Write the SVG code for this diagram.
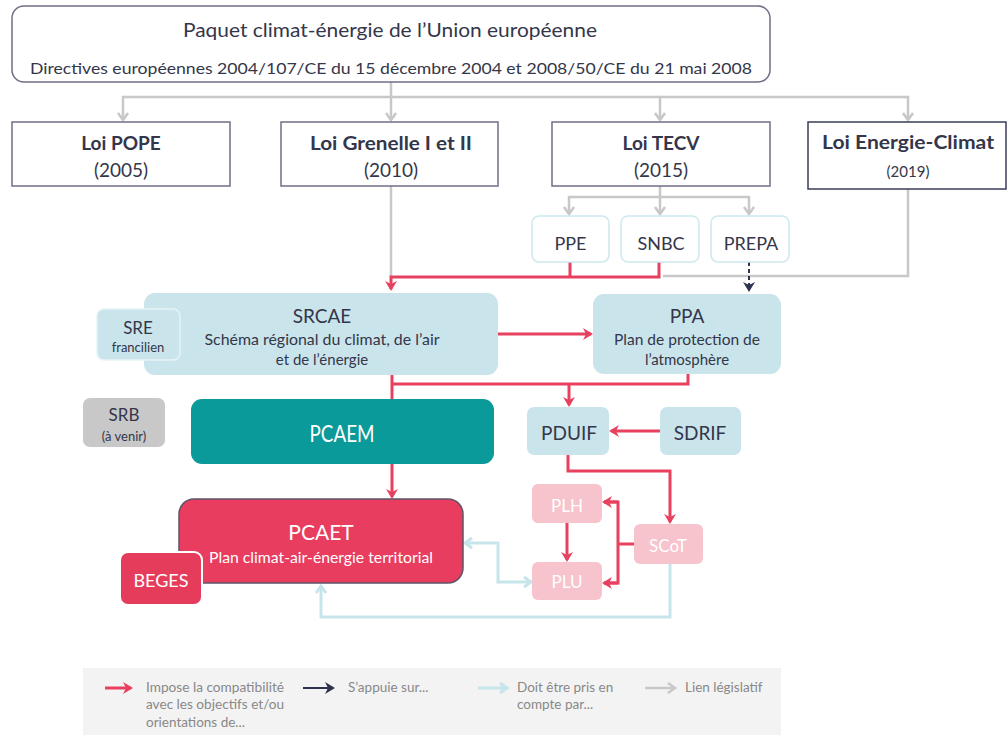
<svg xmlns="http://www.w3.org/2000/svg" width="1008" height="735" viewBox="0 0 1008 735">
<style>
text{font-family:Lato,"Open Sans","Liberation Sans",sans-serif;text-anchor:middle;fill:#34364a}
.law{fill:#fff;stroke:#6e7085;stroke-width:1.5}
.lb{fill:#c9e5eb}
.sub{fill:#fff;stroke:#cde9ef;stroke-width:1.5}
.pink{fill:#f7c3cc}
.w{fill:#fff}
.g{fill:none;stroke:#c8c8c8;stroke-width:2.5}
.r{fill:none;stroke:#e8415f;stroke-width:3}
.b{fill:none;stroke:#c5e5eb;stroke-width:3}
.n{fill:none;stroke:#2e3150;stroke-width:2;stroke-dasharray:4 3}
.lg{text-anchor:start;fill:#888;font-size:13.5px}
</style>
<defs>
<marker id="ag" markerUnits="userSpaceOnUse" markerWidth="14" markerHeight="14" refX="8" refY="7" orient="auto"><path d="M2,2 L9,7 L2,12" fill="none" stroke="#c8c8c8" stroke-width="2.5"/></marker>
<marker id="ar" markerUnits="userSpaceOnUse" markerWidth="14" markerHeight="14" refX="9" refY="7" orient="auto"><path d="M1,1 L11,7 L1,13 L4,7 z" fill="#e8415f"/></marker>
<marker id="an" markerUnits="userSpaceOnUse" markerWidth="14" markerHeight="14" refX="9" refY="7" orient="auto"><path d="M1,1 L11,7 L1,13 L4,7 z" fill="#2e3150"/></marker>
<marker id="ab" markerUnits="userSpaceOnUse" markerWidth="14" markerHeight="14" refX="8" refY="7" orient="auto-start-reverse"><path d="M2,2 L9,7 L2,12" fill="none" stroke="#c5e5eb" stroke-width="3"/></marker>
</defs>

<g id="connectors">
<path class="g" d="M391,82 V97 H123 V119" marker-end="url(#ag)"/>
<path class="g" d="M391,97 V119" marker-end="url(#ag)"/>
<path class="g" d="M391,97 H660 V119" marker-end="url(#ag)"/>
<path class="g" d="M660,97 H908 V119" marker-end="url(#ag)"/>
<path class="g" d="M391,186 V277"/>
<path class="g" d="M660,186 V197 H569 V213" marker-end="url(#ag)"/>
<path class="g" d="M660,197 V213" marker-end="url(#ag)"/>
<path class="g" d="M660,197 H749 V213" marker-end="url(#ag)"/>
<path class="g" d="M908,189 V276 H663"/>
<path class="r" d="M570,262 V277"/>
<path class="r" d="M659,262 V277 H391 V289" marker-end="url(#ar)"/>
<path class="n" d="M749,262 V290" marker-end="url(#an)"/>
<path class="r" d="M498,334 H591" marker-end="url(#ar)"/>
<path class="r" d="M392,375 V399"/>
<path class="r" d="M688,374 V384 H392"/>
<path class="r" d="M569,384 V405" marker-end="url(#ar)"/>
<path class="r" d="M660,431 H611" marker-end="url(#ar)"/>
<path class="r" d="M568,455 V471 H670 V522" marker-end="url(#ar)"/>
<path class="r" d="M392,464 V497" marker-end="url(#ar)"/>
<path class="r" d="M567,523 V560" marker-end="url(#ar)"/>
<path class="r" d="M634,544 H618"/>
<path class="r" d="M604,502 H618 V583 H604"/>
<path class="r" d="M618,502 H604" marker-end="url(#ar)"/>
<path class="r" d="M618,583 H604" marker-end="url(#ar)"/>
<path class="b" d="M466,543 H498 V582 H530" marker-start="url(#ab)" marker-end="url(#ab)"/>
<path class="b" d="M670,564 V617 H321 V587" marker-end="url(#ab)"/>
</g>

<g id="paquet">
<rect x="12" y="6" width="758" height="76" rx="12" fill="#fff" stroke="#6e7085" stroke-width="1.5"/>
<text x="390" y="37" font-size="20" textLength="414" lengthAdjust="spacingAndGlyphs">Paquet climat-énergie de l’Union européenne</text>
<text x="391" y="74" font-size="16" textLength="722" lengthAdjust="spacingAndGlyphs">Directives européennes 2004/107/CE du 15 décembre 2004 et 2008/50/CE du 21 mai 2008</text>
</g>

<g id="pope">
<rect class="law" x="12" y="122" width="218" height="64"/>
<text x="121" y="150" font-size="19" font-weight="bold">Loi POPE</text>
<text x="121" y="177" font-size="19">(2005)</text>
</g>
<g id="grenelle">
<rect class="law" x="281" y="122" width="217" height="64"/>
<text x="391" y="150" font-size="19" font-weight="bold" textLength="162" lengthAdjust="spacingAndGlyphs">Loi Grenelle I et II</text>
<text x="391" y="177" font-size="19">(2010)</text>
</g>
<g id="tecv">
<rect class="law" x="552" y="122" width="218" height="64"/>
<text x="661" y="150" font-size="19" font-weight="bold">Loi TECV</text>
<text x="661" y="177" font-size="19">(2015)</text>
</g>
<g id="energie-climat">
<rect x="808" y="122" width="198" height="67" fill="#fff" stroke="#3a3d5a" stroke-width="1.5"/>
<text x="908" y="149" font-size="18" font-weight="bold" textLength="172" lengthAdjust="spacingAndGlyphs">Loi Energie-Climat</text>
<text x="908" y="177" font-size="15">(2019)</text>
</g>

<g id="ppe">
<rect class="sub" x="532" y="216" width="77" height="46" rx="7"/>
<text x="570.5" y="250" font-size="18">PPE</text>
</g>
<g id="snbc">
<rect class="sub" x="621" y="216" width="78" height="46" rx="7"/>
<text x="661" y="250" font-size="18">SNBC</text>
</g>
<g id="prepa">
<rect class="sub" x="711" y="216" width="78" height="46" rx="7"/>
<text x="751" y="250" font-size="18">PREPA</text>
</g>

<g id="srcae">
<rect class="lb" x="144" y="293" width="354" height="82" rx="11"/>
<text x="322" y="323" font-size="19">SRCAE</text>
<text x="322" y="345" font-size="15" textLength="235" lengthAdjust="spacingAndGlyphs">Schéma régional du climat, de l’air</text>
<text x="322" y="365" font-size="15">et de l’énergie</text>
</g>
<g id="sre">
<rect class="lb" x="97" y="309" width="83" height="51" rx="7" stroke="#e6f3f6" stroke-width="1.5"/>
<text x="138" y="334" font-size="17">SRE</text>
<text x="138" y="352" font-size="13">francilien</text>
</g>
<g id="ppa">
<rect class="lb" x="593" y="294" width="188" height="80" rx="11"/>
<text x="687" y="323" font-size="19">PPA</text>
<text x="687" y="345" font-size="15" textLength="146" lengthAdjust="spacingAndGlyphs">Plan de protection de</text>
<text x="687" y="365" font-size="15">l’atmosphère</text>
</g>

<g id="srb">
<rect x="83" y="398" width="82" height="49" rx="7" fill="#c8c8c8"/>
<text x="124" y="421" font-size="17" fill="#4a4a4a">SRB</text>
<text x="124" y="441" font-size="13" fill="#4a4a4a">(à venir)</text>
</g>
<g id="pcaem">
<rect x="191" y="399" width="303" height="65" rx="11" fill="#0a9a9a"/>
<text x="342" y="442" font-size="23" class="w" fill="#fff" textLength="65" lengthAdjust="spacingAndGlyphs">PCAEM</text>
</g>
<g id="pduif">
<rect class="lb" x="527" y="407" width="82" height="48" rx="7"/>
<text x="569" y="440" font-size="19">PDUIF</text>
</g>
<g id="sdrif">
<rect class="lb" x="660" y="407" width="81" height="48" rx="7"/>
<text x="700" y="440" font-size="19">SDRIF</text>
</g>

<g id="pcaet">
<rect x="179" y="499" width="284" height="84" rx="15" fill="#e83d5e" stroke="#5e5468" stroke-width="1.5"/>
<text x="321" y="540" font-size="21" class="w" fill="#fff">PCAET</text>
<text x="321" y="563" font-size="15" class="w" fill="#fff" textLength="224" lengthAdjust="spacingAndGlyphs">Plan climat-air-énergie territorial</text>
</g>
<g id="beges">
<rect x="120" y="552" width="82" height="53" rx="8" fill="#e63c5c" stroke="#fff" stroke-width="2"/>
<text x="161" y="587" font-size="18" class="w" fill="#fff">BEGES</text>
</g>
<g id="plh">
<rect class="pink" x="532" y="484" width="70" height="39" rx="6"/>
<text x="567" y="512" font-size="17" class="w" fill="#fff">PLH</text>
</g>
<g id="plu">
<rect class="pink" x="532" y="562" width="70" height="38" rx="6"/>
<text x="567" y="588" font-size="17" class="w" fill="#fff">PLU</text>
</g>
<g id="scot">
<rect class="pink" x="634" y="524" width="69" height="40" rx="6"/>
<text x="668" y="552" font-size="17" class="w" fill="#fff">SCoT</text>
</g>

<g id="legend">
<rect x="83" y="668" width="698" height="67" fill="#f3f3f3"/>
<path d="M105,688 H131" stroke="#e8415f" stroke-width="3" fill="none" marker-end="url(#ar)"/>
<text class="lg" x="146" y="692" textLength="138" lengthAdjust="spacingAndGlyphs">Impose la compatibilité</text>
<text class="lg" x="146" y="709" textLength="138" lengthAdjust="spacingAndGlyphs">avec les objectifs et/ou</text>
<text class="lg" x="146" y="727">orientations de...</text>
<path d="M303,688 H333" stroke="#2e3150" stroke-width="2" fill="none" marker-end="url(#an)"/>
<text class="lg" x="348" y="692">S’appuie sur...</text>
<path d="M478,688 H506" stroke="#c5e5eb" stroke-width="3" fill="none" marker-end="url(#ab)"/>
<text class="lg" x="517" y="692">Doit être pris en</text>
<text class="lg" x="517" y="709">compte par...</text>
<path d="M645,688 H674" stroke="#c8c8c8" stroke-width="2.5" fill="none" marker-end="url(#ag)"/>
<text class="lg" x="685" y="692">Lien législatif</text>
</g>
</svg>
